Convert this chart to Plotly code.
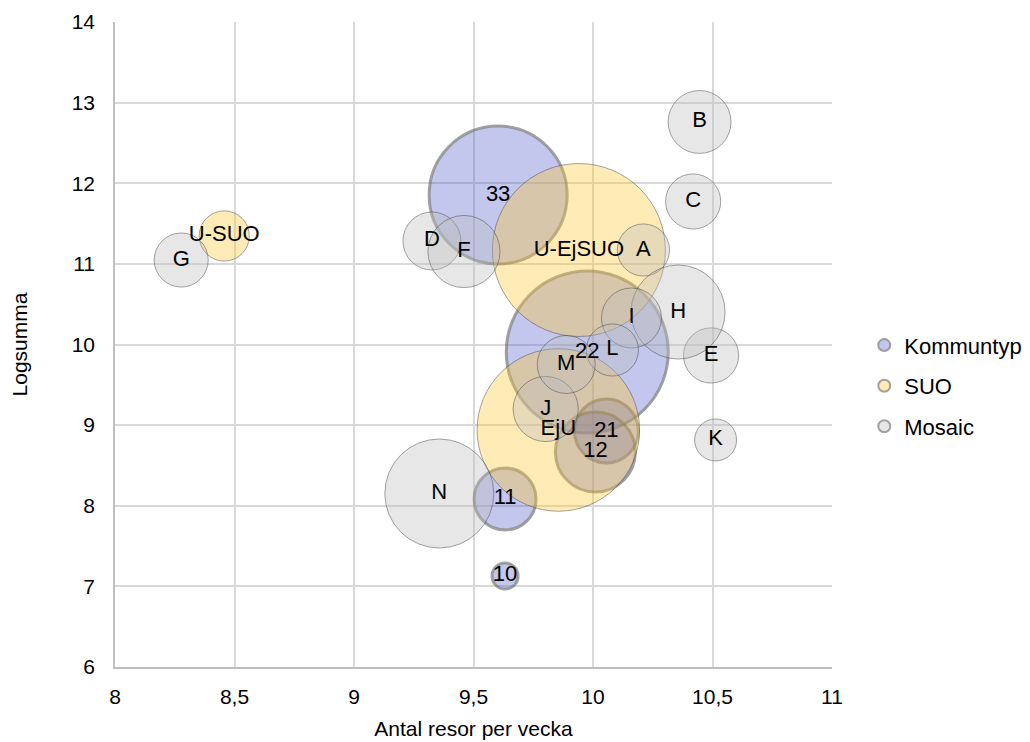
import plotly.graph_objects as go

# Kommuntyp series
komm_labels = ["33", "22", "21", "12", "11", "10"]
komm_x = [9.603, 9.976, 10.056, 10.010, 9.632, 9.632]
komm_y = [11.854, 9.907, 8.927, 8.667, 8.084, 7.129]
komm_size = [47.6, 65.6, 10.2, 16.0, 9.6, 1.7]

# SUO series
suo_labels = ["U-SUO", "U-EjSUO", "EjU"]
suo_x = [8.457, 9.941, 9.855]
suo_y = [11.346, 11.172, 8.94]
suo_size = [6.3, 74.8, 66.0]

# Mosaic series
mos_labels = ["A", "B", "C", "D", "E", "F", "G", "H", "I", "J", "K", "L", "M", "N"]
mos_x = [10.211, 10.446, 10.419, 9.326, 10.494, 9.460, 8.277, 10.356, 10.161,
         9.802, 10.513, 10.081, 9.888, 9.357]
mos_y = [11.172, 12.760, 11.774, 11.284, 9.864, 11.153, 11.048, 10.403, 10.329,
         9.200, 8.816, 9.932, 9.752, 8.152]
mos_size = [6.8, 9.9, 7.6, 8.4, 7.6, 13.0, 7.3, 22.1, 9.0, 10.6, 4.4, 6.8, 8.4, 29.7]

FONT = "Liberation Sans, Arial, sans-serif"
SIZEREF = 0.005

series = [
    ("Kommuntyp", komm_labels, komm_x, komm_y, komm_size,
     "rgba(85,95,205,0.5)", "rgba(90,90,90,0.8)", 3),
    ("SUO", suo_labels, suo_x, suo_y, suo_size,
     "rgba(255,200,50,0.5)", "rgba(70,70,70,0.7)", 1),
    ("Mosaic", mos_labels, mos_x, mos_y, mos_size,
     "rgba(190,190,190,0.5)", "rgba(70,70,70,0.7)", 1),
]

fig = go.Figure()
# bubbles
for i, (name, labels, xs, ys, sz, fill, line, lw) in enumerate(series):
    fig.add_trace(go.Scatter(
        x=xs, y=ys, text=labels, name=name,
        mode="markers", legendgroup=f"g{i}",
        marker=dict(size=sz, sizemode="area", sizeref=SIZEREF,
                    color=fill, line=dict(color=line, width=lw)),
        hoverinfo="x+y+text",
    ))
# data labels drawn above all bubbles
for i, (name, labels, xs, ys, *_rest) in enumerate(series):
    fig.add_trace(go.Scatter(
        x=xs, y=ys, text=labels, mode="text", showlegend=False,
        textposition="middle center", legendgroup=f"g{i}",
        textfont=dict(family=FONT, size=22, color="#000000"),
        hoverinfo="skip",
    ))

fig.update_layout(
    width=1030, height=742,
    margin=dict(l=115, r=198, t=22, b=75, autoexpand=False),
    paper_bgcolor="white", plot_bgcolor="white",
    separators=", ",
    font=dict(family=FONT, size=21, color="#000000"),
    showlegend=True,
    legend=dict(x=1.045, xanchor="left", y=0.436, yanchor="middle",
                itemsizing="constant", tracegroupgap=9,
                font=dict(family=FONT, size=22, color="#000000"),
                bgcolor="rgba(0,0,0,0)"),
    xaxis=dict(range=[8, 11], dtick=0.5, tick0=8, automargin=False,
               showgrid=True, gridcolor="#d9d9d9", gridwidth=1.5,
               showline=True, linecolor="#bfbfbf", linewidth=1.5,
               zeroline=False, ticks="", ticklabelstandoff=10,
               tickfont=dict(family=FONT, size=21),
               title=dict(text="Antal resor per vecka", standoff=14,
                          font=dict(family=FONT, size=21))),
    yaxis=dict(range=[6, 14], dtick=1, tick0=6, automargin=False,
               showgrid=True, gridcolor="#d9d9d9", gridwidth=1.5,
               showline=True, linecolor="#bfbfbf", linewidth=1.5,
               zeroline=False, ticks="", ticklabelstandoff=14,
               tickfont=dict(family=FONT, size=21),
               title=dict(text="Logsumma", standoff=38,
                          font=dict(family=FONT, size=21))),
)

fig.write_html("out.html")
